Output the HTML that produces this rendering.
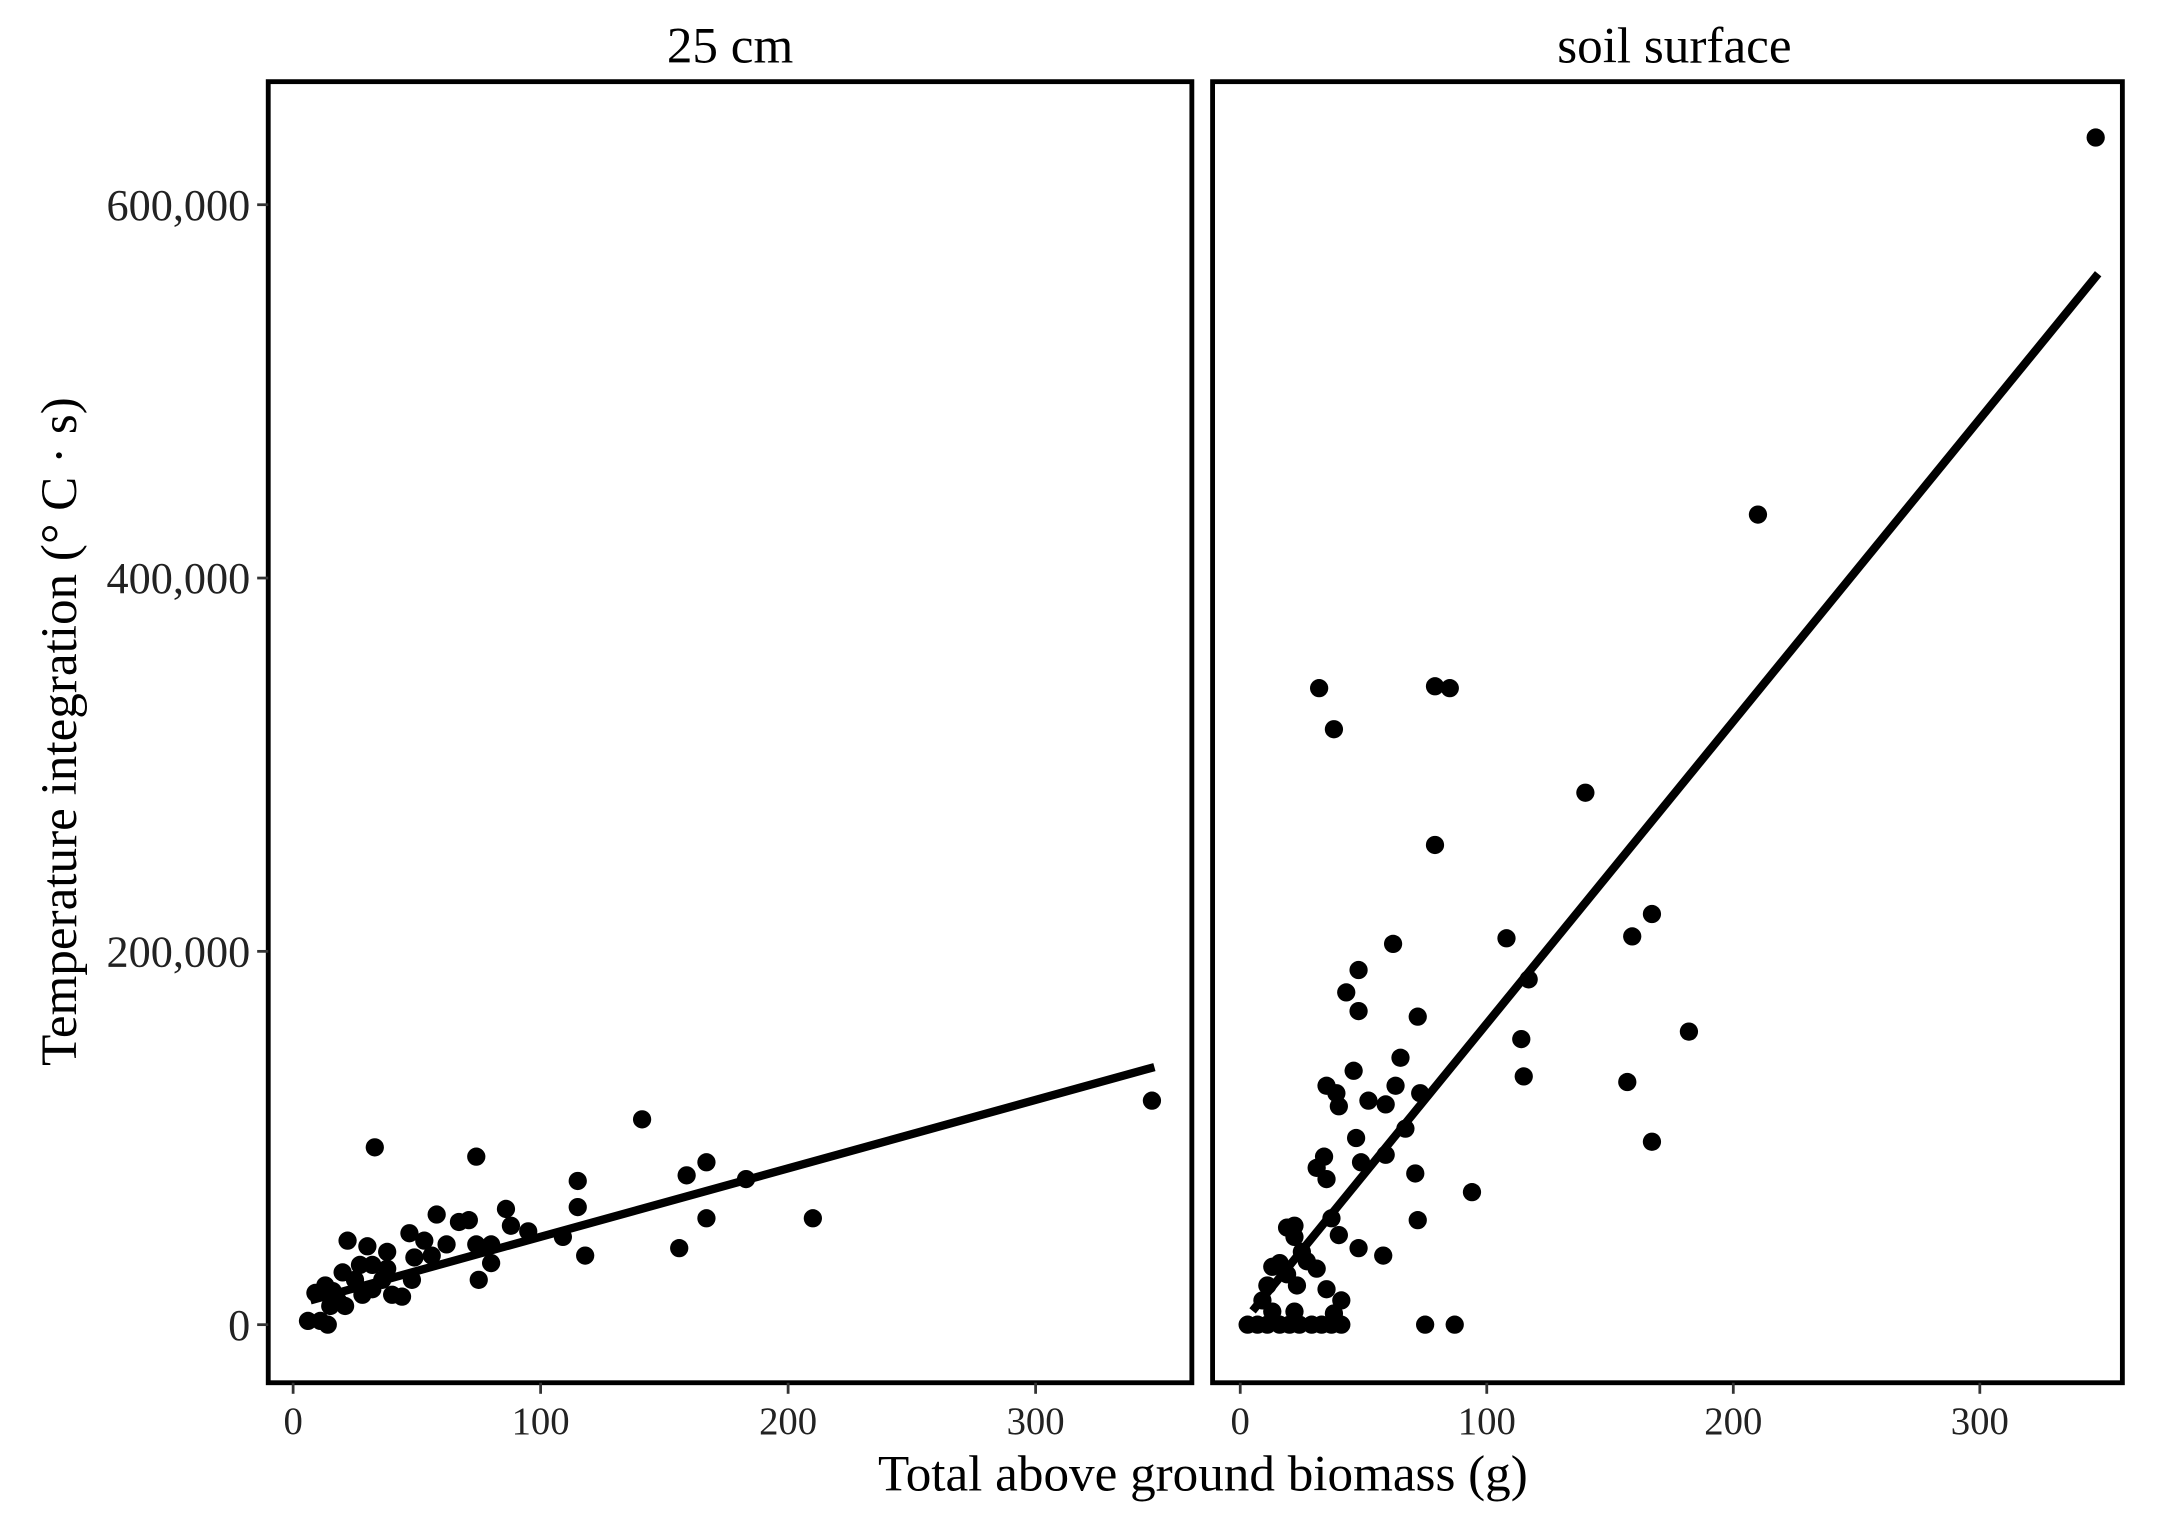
<!DOCTYPE html>
<html><head><meta charset="utf-8"><style>
html,body{margin:0;padding:0;background:#fff;}
svg{display:block;font-family:"Liberation Serif","DejaVu Serif",serif;}
</style></head><body>
<svg id="chart" width="2168" height="1528" viewBox="0 0 1568 1105" xmlns="http://www.w3.org/2000/svg">
<rect width="1568" height="1105" fill="#fff"/>
<text x="528" y="45" font-size="37" text-anchor="middle">25 cm</text>
<text x="1211" y="45" font-size="37" text-anchor="middle">soil surface</text>
<text transform="translate(55,529) rotate(-90)" font-size="37" text-anchor="middle">Temperature integration (° C · s)</text>
<text x="870" y="1078" font-size="37" text-anchor="middle">Total above ground biomass (g)</text>
<g id="p1"></g>
<g id="p2"></g>
</svg>
<script>
const yTicks=[0,200000,400000,600000];
const yTickLabels=["0","200,000","400,000","600,000"];
const xTicks=[0,100,200,300];
const xTickLabels=["0","100","200","300"];
const x25=[347,33,74,141,115,159,167,183,210,167,156,118,109,115,86,88,95,80,80,75,71,67,58,74,62,56,53,47,49,48,44,38,38,30,22,20,25,28,21,16,13,9,11,14,6,15,18,32,36,40,27,32];
const y25=[120000,95000,90000,110000,77000,80000,87000,78000,57000,57000,41000,37000,47000,63000,62000,53000,50000,43000,33000,24000,56000,55000,59000,43000,43000,37000,45000,49000,36000,24000,15000,30000,39000,42000,45000,28000,24000,16000,10000,18000,21000,17000,2000,0,2000,10000,13000,19000,24000,16000,32000,32000];
const line25X=[7,348];
const line25Y=[13000,138000];
const xSoil=[347,210,32,79,85,38,140,79,62,108,159,167,117,48,43,48,72,114,182,65,46,157,115,35,39,63,73,52,59,40,167,67,47,34,59,49,31,35,71,94,37,72,22,19,58,48,40,22,25,16,13,27,31,19,11,23,35,41,9,13,22,38,3,7,11,16,20,24,29,33,37,41,75,87];
const ySoil=[636000,434000,341000,342000,341000,319000,285000,257000,204000,207000,208000,220000,185000,190000,178000,168000,165000,153000,157000,143000,136000,130000,133000,128000,124000,128000,124000,120000,118000,117000,98000,105000,100000,90000,91000,87000,84000,78000,81000,71000,57000,56000,53000,52000,37000,41000,48000,47000,39000,33000,31000,34000,30000,27000,21000,21000,19000,13000,13000,7000,7000,6000,0,0,0,0,0,0,0,0,0,0,0,0];
const lineSoilX=[5,348];
const lineSoilY=[7400,563000];

const NS="http://www.w3.org/2000/svg";
function mk(parent,tag,attrs){const e=document.createElementNS(NS,tag);for(const k in attrs)e.setAttribute(k,attrs[k]);parent.appendChild(e);return e;}
const yScale=v=>958-v*0.00135;
function panel(g,x0,x1,xs,xv,yv,lx,ly,showY,name){
  const fr=mk(g,'rect',{x:x0,y:59,width:x1-x0,height:941,fill:'none',stroke:'#000','stroke-width':3.5});
  
  
  xTicks.forEach((t,i)=>{
    const X=xs(t);
    const tk=mk(g,'line',{x1:X,x2:X,y1:1000,y2:1008,stroke:'#333','stroke-width':2});
    
    
    const tl=mk(g,'text',{x:X,y:1037,'font-size':28,'text-anchor':'middle',fill:'#222'});
    tl.textContent=xTickLabels[i];
    
    
  });
  if(showY){yTicks.forEach((t,i)=>{
    const Y=yScale(t);
    const tk=mk(g,'line',{x1:186,x2:x0,y1:Y,y2:Y,stroke:'#333','stroke-width':2});
    
    
    const tl=mk(g,'text',{x:181,y:Y+11,'font-size':32,'text-anchor':'end',fill:'#222'});
    tl.textContent=yTickLabels[i];
    
    
  });}
  xv.forEach((v,i)=>{
    const c=mk(g,'circle',{cx:xs(v),cy:yScale(yv[i]),r:6.6,fill:'#000'});
    
    
  });
  const ln=mk(g,'line',{x1:xs(lx[0]),y1:yScale(ly[0]),x2:xs(lx[1]),y2:yScale(ly[1]),stroke:'#000','stroke-width':6});
  
  
}
panel(document.getElementById('p1'),194,862,v=>212+v*1.79,x25,y25,line25X,line25Y,true,'panel-25cm');
panel(document.getElementById('p2'),877,1535,v=>897+v*1.783,xSoil,ySoil,lineSoilX,lineSoilY,false,'panel-soil');
</script>
</body></html>
